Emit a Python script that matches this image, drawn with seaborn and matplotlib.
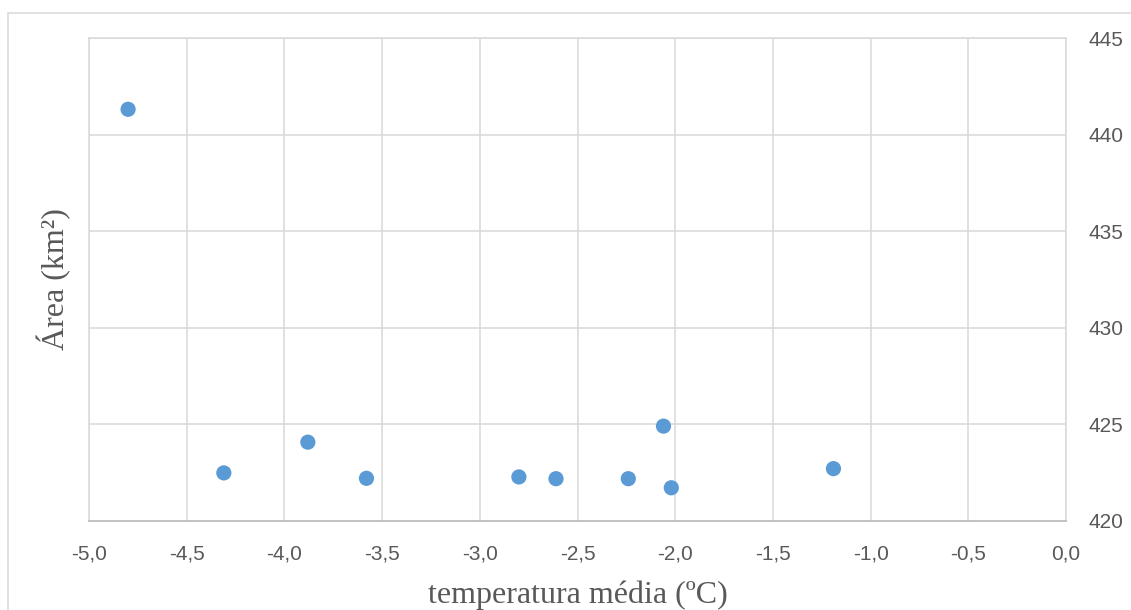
import matplotlib
matplotlib.use("Agg")
import matplotlib.pyplot as plt
from matplotlib.patches import Rectangle
import seaborn as sns
import pandas as pd

temperatura = [-4.80, -4.31, -3.88, -3.58, -2.80, -2.61, -2.24, -2.06, -2.02, -1.19]
area = [441.31, 422.49, 424.08, 422.21, 422.28, 422.19, 422.19, 424.91, 421.72, 422.71]
x_ticks = [-5.0, -4.5, -4.0, -3.5, -3.0, -2.5, -2.0, -1.5, -1.0, -0.5, 0.0]
y_ticks = [420, 425, 430, 435, 440, 445]

df = pd.DataFrame({"temperatura": temperatura, "area": area})

sns.set_style("white")
plt.rcParams["font.family"] = ["Liberation Sans", "DejaVu Sans"]

W, H = 1131, 610
fig = plt.figure(figsize=(W / 100, H / 100), dpi=100)
ax = fig.add_axes([89 / W, 1 - 521 / H, (1066 - 89) / W, (521 - 38) / H])

grid_c = "#d9d9d9"
text_c = "#595959"

sns.scatterplot(data=df, x="temperatura", y="area", ax=ax, s=120,
                color="#5b9bd5", edgecolor="none", zorder=3, legend=False)

ax.set_xlim(-5.0, 0.0)
ax.set_ylim(420, 445)
ax.set_xticks(x_ticks)
ax.set_xticklabels([f"{v:.1f}".replace(".", ",") for v in x_ticks])
ax.set_yticks(y_ticks)
ax.set_yticklabels([str(v) for v in y_ticks])
ax.yaxis.tick_right()
ax.yaxis.set_label_position("left")

ax.grid(True, color=grid_c, linewidth=1.1)
ax.set_axisbelow(True)
for side in ["top", "right", "left"]:
    ax.spines[side].set_color(grid_c)
    ax.spines[side].set_linewidth(1.1)
ax.spines["bottom"].set_color("#bfbfbf")
ax.spines["bottom"].set_linewidth(1.3)

ax.tick_params(axis="x", length=0, pad=17, labelsize=15, labelcolor=text_c)
ax.tick_params(axis="y", length=0, pad=16, labelsize=15, labelcolor=text_c)

serif = ["Liberation Serif", "DejaVu Serif"]
ax.set_xlabel("temperatura média (ºC)", fontsize=23, color=text_c, family=serif, labelpad=12)
ax.set_ylabel("Área (km²)", fontsize=23, color=text_c, family=serif, labelpad=13)

fig.patches.append(Rectangle((8 / W, -0.2), 2.0, 1.2 - 13 / H,
                             transform=fig.transFigure, fill=False,
                             edgecolor=grid_c, linewidth=1.1, zorder=0))

fig.savefig("out.png", dpi=100, facecolor="white")
